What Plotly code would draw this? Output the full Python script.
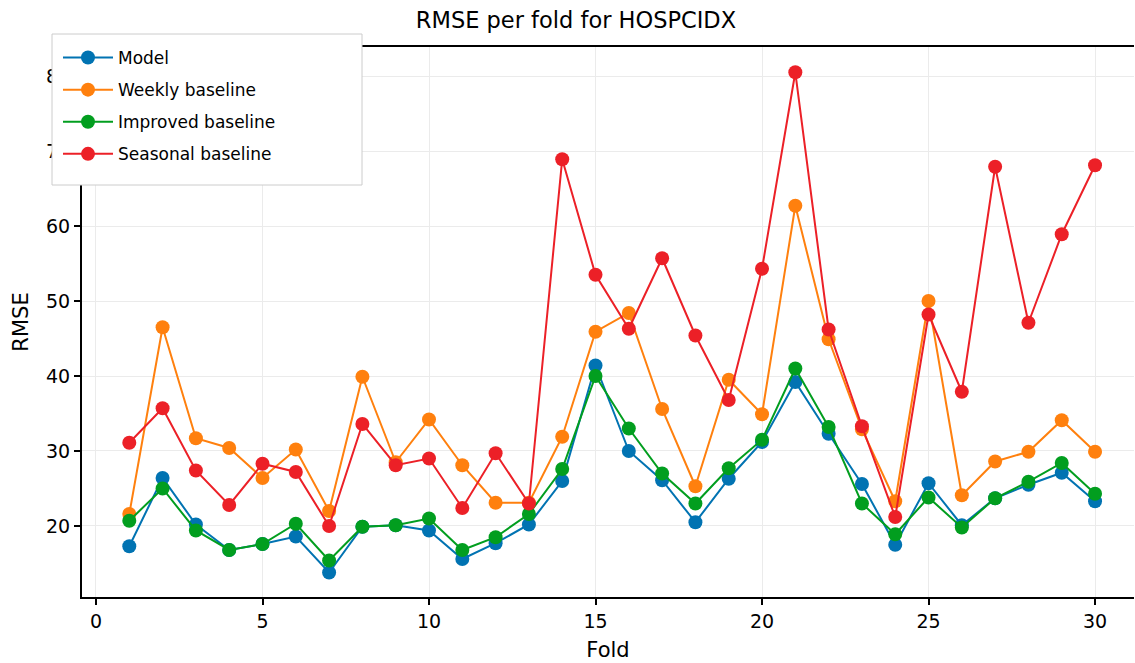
import plotly.graph_objects as go

folds = list(range(1, 31))
model = [17.3, 26.4, 20.2, 16.8, 17.6, 18.6, 13.8, 19.9, 20.1, 19.4, 15.6, 17.7, 20.2, 26.0, 41.4,
         30.0, 26.1, 20.5, 26.3, 31.2, 39.2, 32.3, 25.6, 17.5, 25.7, 20.1, 23.7, 25.5, 27.1, 23.3]
weekly = [21.6, 46.5, 31.7, 30.4, 26.4, 30.2, 22.0, 39.9, 28.5, 34.2, 28.1, 23.1, 23.1, 31.9, 45.9,
          48.4, 35.6, 25.3, 39.5, 34.9, 62.7, 44.9, 32.9, 23.3, 50.0, 24.1, 28.6, 29.9, 34.1, 29.9]
improved = [20.7, 25.0, 19.4, 16.8, 17.6, 20.3, 15.4, 19.9, 20.1, 21.0, 16.8, 18.5, 21.6, 27.6, 40.0,
            33.0, 27.0, 23.0, 27.7, 31.5, 41.0, 33.2, 23.0, 18.9, 23.8, 19.8, 23.7, 25.9, 28.4, 24.3]
seasonal = [31.1, 35.7, 27.4, 22.8, 28.3, 27.2, 20.0, 33.6, 28.1, 29.0, 22.4, 29.7, 23.0, 68.9, 53.5,
            46.3, 55.7, 45.4, 36.8, 54.3, 80.5, 46.2, 33.3, 21.2, 48.2, 37.9, 67.9, 47.1, 58.9, 68.1]

series = [
    ("Model", model, "#0173B2"),
    ("Weekly baseline", weekly, "#FF800E"),
    ("Improved baseline", improved, "#029E1F"),
    ("Seasonal baseline", seasonal, "#EC2027"),
]

fig = go.Figure()
for i, (name, vals, color) in enumerate(series):
    fig.add_trace(go.Scatter(
        x=folds, y=vals, name=name, mode="lines+markers",
        line=dict(color=color, width=2),
        marker=dict(color=color, size=14),
        legendgroup=f"g{i}",
    ))

# legend frame (drawn as a paper-referenced box above the axes)
L, R, T, B = 82, 1134, 47, 597
def px_x(p):
    return (p - L) / (R - L)
def px_y(p):
    return (B - p) / (B - T)

fig.add_shape(type="rect", xref="paper", yref="paper",
              x0=px_x(52), x1=px_x(362), y0=px_y(185), y1=px_y(34),
              fillcolor="white", line=dict(color="#cccccc", width=1), layer="above")

font_family = "DejaVu Sans"
fig.update_layout(
    width=1135, height=663,
    margin=dict(l=L, r=1135 - R, t=T, b=663 - B),
    paper_bgcolor="white", plot_bgcolor="white",
    font=dict(family=font_family, color="black"),
    title=dict(text="RMSE per fold for HOSPCIDX", x=576 / 1135, xanchor="center",
               y=1 - 20 / 663, yanchor="middle", yref="container",
               font=dict(size=22.5, family=font_family, color="black")),
    showlegend=True,
    legend=dict(x=px_x(58), y=px_y(40), xanchor="left", yanchor="top",
                bgcolor="rgba(0,0,0,0)", borderwidth=0,
                font=dict(size=17, family=font_family, color="black"),
                traceorder="grouped", tracegroupgap=7, itemwidth=50),
    xaxis=dict(range=[-0.42, 31.17], tickvals=[0, 5, 10, 15, 20, 25, 30],
               showgrid=True, gridcolor="#ebebeb", gridwidth=1,
               showline=True, linecolor="black", linewidth=2, mirror=True,
               ticks="outside", ticklen=6, tickwidth=1.5, tickcolor="black",
               tickfont=dict(size=19), zeroline=False,
               title=dict(text="Fold", font=dict(size=21), standoff=12)),
    yaxis=dict(range=[10.53, 83.87], tickvals=[20, 30, 40, 50, 60, 70, 80],
               showgrid=True, gridcolor="#ebebeb", gridwidth=1,
               showline=True, linecolor="black", linewidth=2,
               ticks="outside", ticklen=6, tickwidth=1.5, tickcolor="black",
               tickfont=dict(size=19), zeroline=False,
               title=dict(text="RMSE", font=dict(size=21), standoff=12)),
)

fig.write_html("out.html")
